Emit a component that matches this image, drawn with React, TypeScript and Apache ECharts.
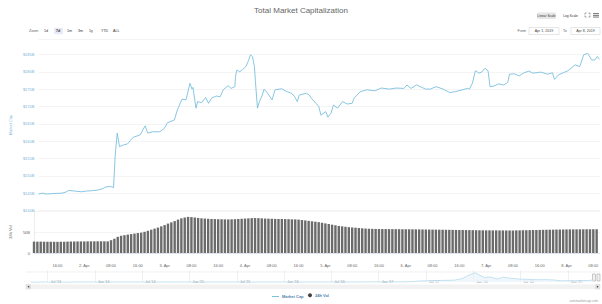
import React, { useEffect, useRef } from "react";
import * as echarts from "echarts";

const FONT = "'Liberation Sans', Arial, sans-serif";

// Market cap, hours since Apr 1 2019 00:00 and value in $B
const capHours = [9.0, 10.2, 11.4, 13.7, 16.1, 17.2, 18.1, 19.9, 21.9, 23.4, 24.9, 26.9, 28.1, 29.3, 30.8, 31.6, 32.1, 32.7, 33.4, 34.6, 35.8, 36.6, 37.5, 39.6, 41.1, 41.9, 43.4, 45.5, 46.9, 47.8, 49.9, 50.8, 52.2, 53.4, 54.6, 55.2, 55.5, 56.4, 56.9, 58.1, 59.3, 60.2, 61.1, 62.5, 63.7, 64.6, 66.1, 66.9, 68.1, 68.3, 68.7, 69.6, 70.5, 71.4, 72.2, 72.8, 73.4, 74.0, 74.3, 74.9, 75.5, 76.4, 76.9, 77.8, 79.3, 80.2, 82.2, 83.7, 85.2, 86.1, 86.9, 87.5, 89.6, 90.5, 91.1, 92.5, 93.4, 94.0, 95.5, 96.1, 97.0, 97.8, 99.0, 100.5, 101.9, 103.4, 104.0, 105.8, 107.8, 110.2, 112.2, 114.6, 116.6, 119.0, 119.9, 121.1, 122.8, 125.5, 126.9, 128.7, 130.8, 132.8, 134.6, 136.6, 138.1, 138.7, 139.6, 140.5, 141.6, 142.5, 143.4, 144.3, 144.9, 146.1, 147.5, 149.0, 150.2, 150.8, 152.2, 153.7, 154.9, 156.6, 157.8, 160.2, 162.2, 163.7, 164.3, 165.5, 166.9, 168.4, 170.5, 171.9, 173.1, 174.3, 175.5, 176.4, 177.2, 177.8];
const capValues = [144.75, 145.0, 144.75, 144.9, 145.0, 145.3, 145.8, 145.6, 145.4, 145.6, 145.7, 145.9, 146.2, 146.8, 146.9, 146.6, 156.0, 162.3, 158.4, 158.9, 159.2, 160.1, 161.1, 161.8, 164.4, 162.3, 162.7, 162.7, 163.7, 165.3, 166.1, 169.0, 172.1, 171.9, 176.7, 175.0, 175.5, 169.5, 171.4, 171.1, 172.6, 170.9, 172.4, 173.0, 172.8, 174.8, 176.0, 175.2, 175.7, 178.6, 180.5, 180.0, 180.7, 181.5, 183.2, 184.9, 184.4, 181.5, 177.2, 169.5, 171.4, 173.3, 175.0, 174.0, 171.9, 174.8, 175.1, 174.3, 173.8, 172.8, 171.4, 173.3, 173.8, 173.3, 172.4, 170.9, 169.9, 167.5, 168.5, 166.9, 168.0, 170.4, 169.5, 171.4, 170.7, 170.9, 172.4, 174.2, 174.8, 174.5, 175.3, 175.0, 175.3, 175.2, 176.2, 175.2, 176.2, 175.0, 175.0, 175.7, 175.0, 174.0, 174.3, 174.8, 175.2, 175.0, 176.7, 180.3, 179.6, 180.0, 181.0, 180.3, 175.7, 175.9, 176.5, 176.2, 176.9, 179.3, 179.4, 178.8, 179.6, 180.2, 179.6, 179.9, 179.3, 179.7, 177.8, 179.1, 179.7, 180.3, 182.0, 181.5, 184.9, 185.3, 183.4, 183.4, 184.4, 183.6];

// 24h volume ($B), hourly from hour 9
const volValues = [
  27.2, 27.0, 27.1, 26.9, 26.8, 26.8, 26.7, 26.6, 26.8, 27.0, 27.2, 27.3, 27.4, 27.5, 27.6, 27.6, 27.7, 27.8, 27.8, 27.9, 27.9, 27.8, 27.7,
  30.5, 34.0, 38.5, 41.0, 42.5, 43.8, 45.0, 46.2, 47.5, 48.5, 50.5, 53.0, 55.5, 58.0,
  60.5, 63.5, 66.5, 70.0, 73.0, 76.0, 79.5, 82.5, 84.5, 86.0,
  85.5, 84.5, 83.5, 82.5, 82.0, 81.5, 81.0, 80.8, 80.5, 80.3, 80.0, 80.0, 80.2, 80.5, 81.0, 81.5, 82.0, 82.5, 83.0, 83.2, 83.0, 82.5, 82.0, 81.8, 81.5, 81.2, 81.0, 81.0, 80.8, 80.5, 80.2, 80.0, 79.5, 78.5,
  77.5, 76.5, 75.5, 74.5, 73.5, 72.0, 70.5, 69.0, 67.5, 66.0, 64.5, 63.5, 62.5, 61.5, 60.8, 60.2, 59.5, 58.8,
  58.2, 57.8, 57.5, 57.3, 57.2, 57.0, 57.0, 56.9, 56.8, 56.8, 56.7, 56.6, 56.6, 56.5, 56.4, 56.3, 56.2, 56.0, 55.9, 55.8, 55.7, 55.6, 55.5, 55.4, 55.3, 55.2,
  55.0, 54.9, 54.8, 54.7, 54.6, 54.5, 54.4, 54.3, 54.2, 54.1, 54.0, 54.0, 53.9, 53.9, 53.8, 53.8, 53.7, 53.7,
  53.8, 53.9, 54.0, 54.2, 54.3, 54.5, 54.7, 54.8, 55.0, 55.2, 55.3, 55.5, 55.6, 55.8, 55.9, 56.0, 56.1, 56.2, 56.3, 56.3, 56.4, 56.4, 56.5, 56.5, 56.6, 56.6,
];
const volHours = volValues.map((_, i) => 9 + i);

const xTickHours = [16, 24, 32, 40, 48, 56, 64, 72, 80, 88, 96, 104, 112, 120, 128, 136, 144, 152, 160, 168, 176];
const xTickLabels = ["16:00", "2. Apr", "08:00", "16:00", "3. Apr", "08:00", "16:00", "4. Apr", "08:00", "16:00", "5. Apr", "08:00", "16:00", "6. Apr", "08:00", "16:00", "7. Apr", "08:00", "16:00", "8. Apr", "08:00"];

// Navigator history (decimal year, $B)
const navYears = [2013.32, 2013.5, 2013.75, 2013.85, 2013.92, 2014.0, 2014.15, 2014.3, 2014.5, 2014.75, 2015.0, 2015.25, 2015.5, 2015.75, 2016.0, 2016.25, 2016.5, 2016.75, 2017.0, 2017.15, 2017.25, 2017.35, 2017.45, 2017.5, 2017.6, 2017.7, 2017.8, 2017.88, 2017.95, 2018.02, 2018.07, 2018.12, 2018.18, 2018.25, 2018.32, 2018.4, 2018.5, 2018.58, 2018.67, 2018.75, 2018.85, 2018.92, 2019.0, 2019.08, 2019.15, 2019.22, 2019.27];
const navValues = [1.6, 1.3, 1.8, 3, 13, 10, 8, 6, 8.5, 5.5, 4.5, 3.6, 4.2, 3.8, 7, 7.5, 11, 11, 18, 20, 25, 45, 100, 110, 140, 150, 170, 300, 600, 820, 600, 400, 450, 270, 430, 330, 260, 240, 210, 215, 190, 110, 120, 115, 130, 140, 185];
const navTickYears = [2013.5, 2014, 2014.5, 2015, 2015.5, 2016, 2016.5, 2017, 2017.5, 2018, 2018.5, 2019];
const navTickLabels = ["Jul '13", "Jan '14", "Jul '14", "Jan '15", "Jul '15", "Jan '16", "Jul '16", "Jan '17", "Jul '17", "Jan '18", "Jul '18", "Jan '19"];

const zoomButtons = ["1d", "7d", "1m", "3m", "1y", "YTD", "ALL"];
const zoomButtonX = [44, 56, 67, 78, 89, 101, 113];

function txt(x: number, y: number, text: string, fontSize: number, fill: string, align = "left", weight = "normal") {
  return {
    type: "text",
    x,
    y,
    silent: true,
    style: { text, fill, fontSize, fontFamily: FONT, fontWeight: weight, align, verticalAlign: "middle", textAlign: align, textVerticalAlign: "middle" },
  };
}

export default function App() {
  const ref = useRef<HTMLDivElement>(null);
  useEffect(() => {
    if (!ref.current) return;
    const chart = echarts.init(ref.current, null, { renderer: "svg" });

    const graphics: any[] = [];
    // range selector row
    graphics.push(txt(29, 31, "Zoom", 3.6, "#666"));
    graphics.push({ type: "rect", silent: true, shape: { x: 54, y: 27.8, width: 9, height: 6.4, r: 1 }, style: { fill: "#e6ebf5" } });
    zoomButtons.forEach((b, i) => {
      graphics.push(txt(zoomButtonX[i], 31, b, 3.6, "#333", "left", b === "7d" ? "bold" : "normal"));
    });
    // scale buttons
    graphics.push({ type: "rect", silent: true, shape: { x: 537, y: 12.5, width: 19, height: 6.5, r: 1 }, style: { fill: "#e6e6e6" } });
    graphics.push(txt(546.5, 15.8, "Linear Scale", 3.3, "#333", "center"));
    graphics.push(txt(570.5, 15.8, "Log Scale", 3.3, "#333", "center"));
    // fullscreen icon
    const fs = [
      [[585, 14.5], [585, 13], [586.5, 13]],
      [[588.5, 13], [590, 13], [590, 14.5]],
      [[585, 15.5], [585, 17], [586.5, 17]],
      [[588.5, 17], [590, 17], [590, 15.5]],
    ];
    fs.forEach((p) => graphics.push({ type: "polyline", silent: true, shape: { points: p }, style: { stroke: "#666", lineWidth: 0.6, fill: null } }));
    [13.2, 14.9, 16.6].forEach((y) => graphics.push({ type: "rect", silent: true, shape: { x: 593, y, width: 6, height: 0.9 }, style: { fill: "#666" } }));
    // from / to inputs
    graphics.push(txt(517.5, 31, "From", 3.6, "#666"));
    graphics.push({ type: "rect", silent: true, shape: { x: 529, y: 27.5, width: 30, height: 7 }, style: { fill: "#fff", stroke: "#cccccc", lineWidth: 0.5 } });
    graphics.push(txt(544, 31, "Apr 1, 2019", 3.6, "#444", "center"));
    graphics.push(txt(563, 31, "To", 3.6, "#666"));
    graphics.push({ type: "rect", silent: true, shape: { x: 571, y: 27.5, width: 29, height: 7 }, style: { fill: "#fff", stroke: "#cccccc", lineWidth: 0.5 } });
    graphics.push(txt(585.5, 31, "Apr 8, 2019", 3.6, "#444", "center"));
    // navigator top border
    graphics.push({ type: "line", silent: true, shape: { x1: 26, y1: 272, x2: 600, y2: 272 }, style: { stroke: "#e6e6e6", lineWidth: 0.6 } });
    // navigator handles
    [592.5, 597].forEach((x) => graphics.push({ type: "rect", silent: true, shape: { x, y: 274, width: 3, height: 7 }, style: { fill: "#f2f2f2", stroke: "#999", lineWidth: 0.5 } }));
    // scrollbar
    graphics.push({ type: "rect", silent: true, shape: { x: 26, y: 284.5, width: 574, height: 4.5 }, style: { fill: "#f2f2f2" } });
    graphics.push({ type: "rect", silent: true, shape: { x: 26, y: 284.5, width: 4.5, height: 4.5 }, style: { fill: "#e6e6e6", stroke: "#cccccc", lineWidth: 0.4 } });
    graphics.push({ type: "rect", silent: true, shape: { x: 595.5, y: 284.5, width: 4.5, height: 4.5 }, style: { fill: "#e6e6e6", stroke: "#cccccc", lineWidth: 0.4 } });
    graphics.push({ type: "polygon", silent: true, shape: { points: [[29.2, 285.7], [29.2, 287.8], [27.4, 286.75]] }, style: { fill: "#333" } });
    graphics.push({ type: "polygon", silent: true, shape: { points: [[596.9, 285.7], [596.9, 287.8], [598.7, 286.75]] }, style: { fill: "#333" } });
    // credits
    graphics.push(txt(598, 301, "coinmarketcap.com", 3.3, "#999", "right"));

    const option: any = {
      animation: false,
      backgroundColor: "#ffffff",
      textStyle: { fontFamily: FONT },
      title: {
        text: "Total Market Capitalization",
        left: "center",
        top: 1,
        textStyle: { fontSize: 8, fontWeight: "normal", color: "#666", fontFamily: FONT },
      },
      legend: [
        {
          data: [{ name: "Market Cap", icon: "rect" }],
          left: 272,
          top: 294.5,
          itemWidth: 7,
          itemHeight: 1,
          padding: 0,
          selectedMode: false,
          textStyle: { fontSize: 4, color: "#4f7fab", fontWeight: "bold", fontFamily: FONT, padding: [0, 0, 0, -2] },
        },
        {
          data: [{ name: "24h Vol", icon: "circle" }],
          left: 308,
          top: 293.3,
          itemWidth: 4,
          itemHeight: 4,
          padding: 0,
          selectedMode: false,
          itemStyle: { color: "#434348" },
          textStyle: { fontSize: 4, color: "#4f7fab", fontWeight: "bold", fontFamily: FONT, padding: [0, 0, 0, -2] },
        },
      ],
      grid: [
        { left: 26, right: 2, top: 39.5, height: 171 },
        { left: 26, right: 2, top: 211, height: 42 },
        { left: 26, right: 2, top: 272, height: 12 },
      ],
      xAxis: [
        { type: "value", gridIndex: 0, min: 9, max: 178, show: false },
        {
          type: "value",
          gridIndex: 1,
          min: 9,
          max: 178,
          axisLine: { show: true, lineStyle: { color: "#ccd6eb", width: 0.6 } },
          axisTick: { show: false },
          splitLine: { show: false },
          axisLabel: {
            customValues: xTickHours,
            formatter: (v: number) => {
              const i = xTickHours.indexOf(Math.round(v));
              return i >= 0 ? xTickLabels[i] : "";
            },
            fontSize: 4,
            color: "#666",
            margin: 10,
            fontFamily: FONT,
          },
        },
        {
          type: "value",
          gridIndex: 2,
          min: 2013.27,
          max: 2019.34,
          axisLine: { show: false },
          axisTick: { show: true, inside: true, length: 12, customValues: navTickYears, lineStyle: { color: "#e6e6e6", width: 0.6 } },
          splitLine: { show: false },
          axisLabel: {
            customValues: navTickYears,
            formatter: (v: number) => {
              const i = navTickYears.findIndex((t) => Math.abs(t - v) < 1e-6);
              return i >= 0 ? navTickLabels[i] : "";
            },
            align: "left",
            padding: [0, 0, 0, 3],
            margin: -4.5,
            fontSize: 3.6,
            color: "#999",
            fontFamily: FONT,
          },
        },
      ],
      yAxis: [
        {
          type: "value",
          gridIndex: 0,
          min: 140,
          max: 189.3,
          interval: 5,
          name: "Market Cap",
          nameLocation: "middle",
          nameGap: 19,
          nameTextStyle: { color: "#7cb5d8", fontSize: 4, fontFamily: FONT },
          axisLine: { show: false },
          axisTick: { show: false },
          splitLine: { lineStyle: { color: "#ececec", width: 0.6 } },
          axisLabel: {
            fontSize: 4,
            color: "#7cb5d8",
            margin: 4,
            showMaxLabel: false,
            fontFamily: FONT,
            formatter: (v: number) => (Math.abs(v % 5) < 1e-6 ? `$${v}B` : ""),
          },
        },
        {
          type: "value",
          gridIndex: 1,
          min: 0,
          max: 100,
          interval: 50,
          name: "24h Vol",
          nameLocation: "middle",
          nameGap: 19,
          nameTextStyle: { color: "#666", fontSize: 4, fontFamily: FONT },
          axisLine: { show: true, lineStyle: { color: "#e0e0e0", width: 0.6 } },
          axisTick: { show: false },
          splitLine: { lineStyle: { color: "#ececec", width: 0.6 } },
          axisLabel: {
            fontSize: 4,
            color: "#666",
            margin: 4,
            showMaxLabel: false,
            fontFamily: FONT,
            formatter: (v: number) => (v === 0 ? "0" : v === 50 ? "50B" : ""),
          },
        },
        { type: "value", gridIndex: 2, min: -170, max: 890, show: false },
      ],
      series: [
        {
          type: "line",
          name: "Market Cap",
          xAxisIndex: 0,
          yAxisIndex: 0,
          data: capHours.map((h, i) => [h, capValues[i]]),
          showSymbol: false,
          lineStyle: { color: "#7cc0df", width: 0.9 },
          itemStyle: { color: "#7cc0df" },
        },
        {
          type: "bar",
          name: "24h Vol",
          xAxisIndex: 1,
          yAxisIndex: 1,
          data: volHours.map((h, i) => [h, volValues[i]]),
          barWidth: 2.4,
          itemStyle: { color: "#6b6b6b" },
        },
        {
          type: "line",
          name: "nav",
          xAxisIndex: 2,
          yAxisIndex: 2,
          data: navYears.map((y, i) => [y, navValues[i]]),
          showSymbol: false,
          silent: true,
          lineStyle: { color: "#9fd0e8", width: 0.6 },
          areaStyle: { color: "#eaf4fb" },
        },
      ],
      graphic: graphics,
    };
    chart.setOption(option);
    return () => chart.dispose();
  }, []);
  return <div ref={ref} style={{ position: "absolute", left: 0, top: 0, width: 602, height: 304 }} />;
}
